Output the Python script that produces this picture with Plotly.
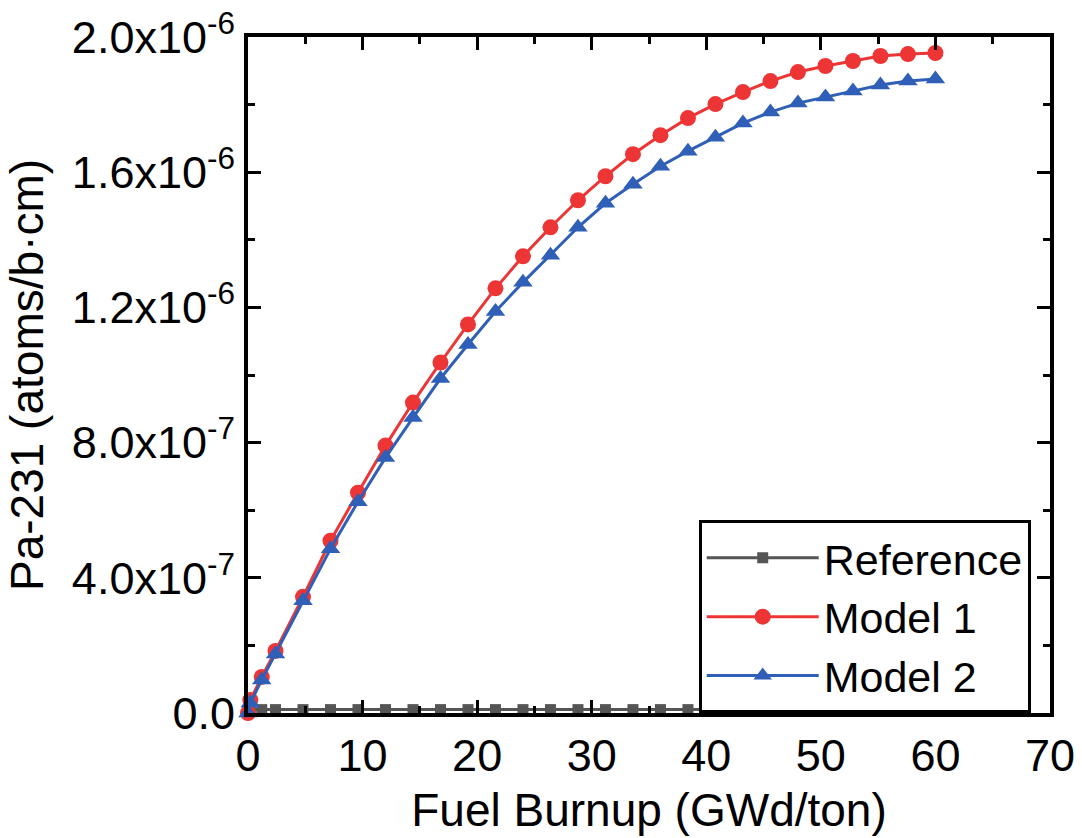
import plotly.graph_objects as go

# Fuel burnup steps (GWd/ton)
burnup = [0, 0.2, 1.2, 2.4, 4.8, 7.2, 9.6, 12.0, 14.4, 16.8, 19.2, 21.6, 24.0, 26.4,
          28.8, 31.2, 33.6, 36.0, 38.4, 40.8, 43.2, 45.6, 48.0, 50.4, 52.8, 55.2, 57.6, 60.0]

# Pa-231 number density (atoms/b·cm)
reference = [0, 1.0e-8, 1.0e-8, 1.0e-8, 1.0e-8, 1.0e-8, 1.0e-8, 1.0e-8, 1.0e-8, 1.0e-8,
             1.0e-8, 1.0e-8, 1.0e-8, 1.0e-8, 1.0e-8, 1.0e-8, 1.0e-8, 1.0e-8, 1.0e-8,
             1.0e-8, 1.0e-8, 1.0e-8, 1.0e-8, 1.0e-8, 1.0e-8, 1.0e-8, 1.0e-8, 1.0e-8]
model1 = [0, 0.385e-7, 1.067e-7, 1.837e-7, 3.437e-7, 5.096e-7, 6.519e-7, 7.911e-7,
          9.185e-7, 10.370e-7, 11.496e-7, 12.563e-7, 13.511e-7, 14.370e-7, 15.170e-7,
          15.881e-7, 16.533e-7, 17.096e-7, 17.600e-7, 18.015e-7, 18.370e-7, 18.696e-7,
          18.963e-7, 19.141e-7, 19.289e-7, 19.437e-7, 19.496e-7, 19.526e-7]
model2 = [0, 0.296e-7, 0.978e-7, 1.748e-7, 3.319e-7, 4.859e-7, 6.252e-7, 7.556e-7,
          8.741e-7, 9.896e-7, 10.904e-7, 11.881e-7, 12.741e-7, 13.541e-7, 14.370e-7,
          15.081e-7, 15.644e-7, 16.178e-7, 16.622e-7, 17.037e-7, 17.452e-7, 17.778e-7,
          18.044e-7, 18.222e-7, 18.400e-7, 18.578e-7, 18.696e-7, 18.756e-7]

y_tickvals = [0, 4e-7, 8e-7, 1.2e-6, 1.6e-6, 2.0e-6]
y_ticktext = ["0.0", "4.0x10<sup>-7</sup>", "8.0x10<sup>-7</sup>",
              "1.2x10<sup>-6</sup>", "1.6x10<sup>-6</sup>", "2.0x10<sup>-6</sup>"]
x_tickvals = [0, 10, 20, 30, 40, 50, 60, 70]

FONT = "Liberation Sans, Arial, sans-serif"

fig = go.Figure()
fig.add_trace(go.Scatter(
    x=burnup, y=reference, name="Reference", mode="lines+markers",
    line=dict(color="#555555", width=3),
    marker=dict(symbol="square", size=11, color="#555555"),
    cliponaxis=False))
fig.add_trace(go.Scatter(
    x=burnup, y=model1, name="Model 1", mode="lines+markers",
    line=dict(color="#EE3535", width=3),
    marker=dict(symbol="circle", size=16, color="#EE3535"),
    cliponaxis=False))
fig.add_trace(go.Scatter(
    x=burnup, y=model2, name="Model 2", mode="lines+markers",
    line=dict(color="#2F5FB6", width=3),
    marker=dict(symbol="triangle-up", size=17, color="#2F5FB6"),
    cliponaxis=False))

axis_common = dict(
    showline=True, linecolor="black", linewidth=4, mirror="ticks",
    ticks="inside", ticklen=13, tickwidth=3, tickcolor="black",
    showgrid=False, zeroline=False, automargin=False,
    tickfont=dict(family=FONT, size=45, color="black"),
)

fig.update_xaxes(
    range=[0, 70], tickmode="array", tickvals=x_tickvals,
    minor=dict(ticks="inside", ticklen=7, tickwidth=3, tickcolor="black", dtick=5,
               showgrid=False),
    title=dict(text="Fuel Burnup (GWd/ton)", font=dict(family=FONT, size=46, color="black")),
    **axis_common)
fig.update_yaxes(
    range=[0, 2.0e-6], tickmode="array", tickvals=y_tickvals, ticktext=y_ticktext,
    minor=dict(ticks="inside", ticklen=7, tickwidth=3, tickcolor="black",
               tickvals=[2e-7, 6e-7, 1.0e-6, 1.4e-6, 1.8e-6], showgrid=False),
    title=dict(text="Pa-231 (atoms/b·cm)", font=dict(family=FONT, size=46, color="black")),
    **axis_common)

fig.update_layout(
    width=1082, height=838,
    margin=dict(l=248, r=32, t=37, b=125),
    paper_bgcolor="white", plot_bgcolor="white",
    showlegend=True,
    legend=dict(
        x=0.562, y=0.285, xanchor="left", yanchor="top",
        bgcolor="white", bordercolor="black", borderwidth=3,
        font=dict(family=FONT, size=43, color="black"),
        itemwidth=112, tracegroupgap=0,
    ),
)

fig.write_html("out.html")
